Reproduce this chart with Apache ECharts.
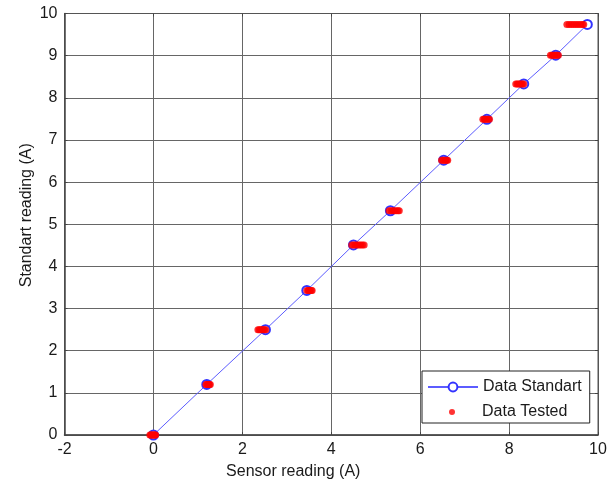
<!DOCTYPE html>
<html>
<head>
<meta charset="utf-8">
<script src="https://cdn.jsdelivr.net/npm/echarts@6/dist/echarts.min.js"></script>
<style>
  html, body { margin: 0; padding: 0; background: #fff; }
  #chart { width: 614px; height: 482px; }
</style>
</head>
<body>
<div id="chart"></div>
<script>
// standard reading levels (y) and the standard sensor value (x) at each level
const levels = [0, 1.2, 2.5, 3.43, 4.51, 5.32, 6.52, 7.49, 8.33, 9.01, 9.74];
const standardSensor = [0, 1.2, 2.52, 3.45, 4.5, 5.33, 6.53, 7.5, 8.33, 9.05, 9.76];

// tested sensor readings, one list per level
const testedSensor = [
  [-0.08, -0.06, -0.04, -0.02, 0, 0.02, 0.04, 0.05],
  [1.18, 1.2, 1.22, 1.24, 1.26, 1.28],
  [2.35, 2.38, 2.41, 2.44, 2.47, 2.5, 2.53],
  [3.45, 3.48, 3.5, 3.52, 3.55, 3.57],
  [4.46, 4.5, 4.54, 4.58, 4.62, 4.66, 4.7, 4.74],
  [5.3, 5.34, 5.38, 5.42, 5.46, 5.5, 5.53],
  [6.48, 6.51, 6.54, 6.57, 6.6, 6.62],
  [7.41, 7.44, 7.47, 7.5, 7.53, 7.56],
  [8.15, 8.18, 8.21, 8.24, 8.27, 8.3, 8.33],
  [8.93, 8.96, 8.99, 9.02, 9.05, 9.08, 9.11],
  [9.3, 9.35, 9.4, 9.45, 9.5, 9.55, 9.6, 9.65, 9.68]
];

const FONT = "'Liberation Sans', Arial, sans-serif";
const TEXT = '#1a1a1a';

const standardData = levels.map((y, i) => [standardSensor[i], y]);
const testedData = [];
testedSensor.forEach((xs, i) => {
  xs.forEach(x => testedData.push([x, levels[i]]));
});

const chart = echarts.init(document.getElementById('chart'));

const option = {
  backgroundColor: '#fff',
  animation: false,
  textStyle: { fontFamily: FONT },
  grid: {
    left: 64.5,
    right: 16,
    top: 13.5,
    bottom: 47,
    outerBoundsMode: 'none',
    show: true,
    borderColor: '#555',
    borderWidth: 1
  },
  legend: [
    {
      data: ['Data Standart'],
      left: 422,
      top: 371,
      orient: 'vertical',
      itemWidth: 50,
      itemHeight: 11,
      padding: [8, 8, 28, 5],
      backgroundColor: '#fff',
      borderColor: '#222',
      borderWidth: 1,
      borderRadius: 0,
      textStyle: { fontFamily: FONT, fontSize: 16, color: TEXT }
    },
    {
      data: ['Data Tested'],
      left: 449,
      top: 404,
      orient: 'vertical',
      align: 'left',
      itemWidth: 50,
      itemHeight: 6,
      padding: 0,
      z: 10,
      textStyle: { fontFamily: FONT, fontSize: 16, color: TEXT }
    }
  ],
  xAxis: [
    {
      type: 'value',
      min: -2,
      max: 10,
      interval: 2,
      name: 'Sensor reading (A)',
      nameLocation: 'middle',
      nameGap: 29,
      nameMoveOverlap: false,
      nameTextStyle: { fontFamily: FONT, fontSize: 16, color: TEXT, padding: [0, 76, 0, 0] },
      axisLine: { show: true, onZero: false, lineStyle: { color: '#444', width: 1.5 } },
      axisTick: { show: true, inside: true, length: 3, lineStyle: { color: '#444' } },
      axisLabel: { fontFamily: FONT, fontSize: 16, color: TEXT, margin: 7 },
      splitLine: { show: true, lineStyle: { color: '#666', width: 1 } }
    },
    {
      type: 'value',
      position: 'top',
      min: -2,
      max: 10,
      interval: 2,
      axisLine: { show: true, onZero: false, lineStyle: { color: '#555', width: 1 } },
      axisTick: { show: true, inside: true, length: 3, lineStyle: { color: '#444' } },
      axisLabel: { show: false },
      splitLine: { show: false }
    }
  ],
  yAxis: [
    {
      type: 'value',
      min: 0,
      max: 10,
      interval: 1,
      name: 'Standart reading (A)',
      nameLocation: 'middle',
      nameGap: 30,
      nameMoveOverlap: false,
      nameTextStyle: { fontFamily: FONT, fontSize: 16, color: TEXT, padding: [0, 0, 0, 18] },
      axisLine: { show: true, onZero: false, lineStyle: { color: '#444', width: 1.5 } },
      axisTick: { show: true, inside: true, length: 3, lineStyle: { color: '#444' } },
      axisLabel: { fontFamily: FONT, fontSize: 16, color: TEXT, margin: 7 },
      splitLine: { show: true, lineStyle: { color: '#666', width: 1 } }
    },
    {
      type: 'value',
      position: 'right',
      min: 0,
      max: 10,
      interval: 1,
      axisLine: { show: true, onZero: false, lineStyle: { color: '#555', width: 1 } },
      axisTick: { show: true, inside: true, length: 3, lineStyle: { color: '#444' } },
      axisLabel: { show: false },
      splitLine: { show: false }
    }
  ],
  series: [
    {
      name: 'Data Standart',
      type: 'line',
      xAxisIndex: 0,
      yAxisIndex: 0,
      z: 2,
      clip: false,
      symbol: 'emptyCircle',
      symbolSize: 9,
      showAllSymbol: true,
      lineStyle: { color: '#5c5cff', width: 1 },
      itemStyle: { color: '#3333ff', borderColor: '#3333ff', borderWidth: 1 },
      data: standardData
    },
    {
      name: 'Data Tested',
      type: 'scatter',
      xAxisIndex: 0,
      yAxisIndex: 0,
      z: 5,
      clip: false,
      symbol: 'circle',
      symbolSize: 7,
      itemStyle: { color: '#ff0000' },
      data: testedData
    }
  ]
};

chart.setOption(option);
</script>
</body>
</html>
